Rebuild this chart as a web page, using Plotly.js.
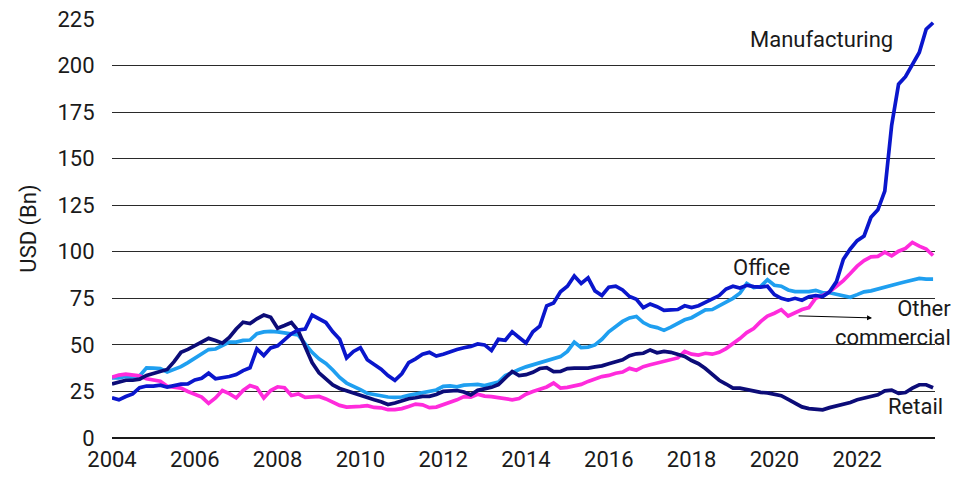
<!DOCTYPE html>
<html>
<head>
<meta charset="utf-8">
<script src="https://cdn.plot.ly/plotly-3.0.1.min.js"></script>
<style>
  html, body { margin: 0; padding: 0; background: #ffffff; }
  #chart { width: 969px; height: 478px; }
</style>
</head>
<body>
<div id="chart"></div>
<script>
// Bimonthly observations (Jan, Mar, May, Jul, Sep, Nov), Jan 2004 – Nov 2023, USD bn
const START_YEAR = 2004;
const STEP_MONTHS = 2;

const manufacturing = [
  21.6, 20.5, 22.3, 23.7, 27.0, 27.9,
  27.9, 28.4, 27.3, 28.2, 28.9, 29.1,
  31.2, 32.1, 34.8, 31.8, 32.3, 33.0,
  34.1, 36.2, 37.7, 47.9, 44.3, 48.4,
  49.5, 53.0, 56.0, 58.0, 58.5, 66.0,
  64.0, 62.0, 57.0, 53.0, 43.0, 46.5,
  48.5, 42.0, 39.5, 37.0, 33.5, 31.0,
  34.5, 40.5, 42.5, 45.0, 46.0, 44.0,
  45.0, 46.5, 47.5, 48.5, 49.2, 50.5,
  50.0, 47.0, 53.0, 52.5, 57.0, 54.0,
  51.0, 57.0, 60.0, 71.0, 72.5, 78.5,
  81.5, 87.0, 83.0, 86.0, 79.0, 76.5,
  81.0, 81.5, 79.5, 76.0, 74.5, 70.0,
  72.0, 70.5, 68.5, 68.8, 69.0, 71.0,
  70.0, 71.0, 73.0, 75.0, 76.5, 80.0,
  81.5, 80.5, 82.0, 81.3, 81.0, 81.5,
  77.0, 75.0, 74.0, 75.0, 74.0, 75.9,
  76.5, 76.0, 78.5, 84.0, 96.0, 101.5,
  106.0, 108.5, 118.5, 122.5, 132.6, 168.0,
  190.0, 194.0, 201.0, 207.0, 219.5, 223.0
];

const office = [
  32.3, 32.3, 33.0, 32.5, 33.3, 37.7,
  37.5, 37.3, 35.5, 37.0, 38.3, 40.5,
  43.0, 45.2, 47.5, 47.8, 49.5, 51.5,
  51.5, 52.4, 52.6, 56.0, 57.0, 57.3,
  57.0, 56.5, 56.0, 55.3, 50.5, 46.0,
  42.5, 40.0, 36.5, 32.5, 29.5, 28.0,
  26.0, 24.0, 23.2, 22.5, 22.0, 21.8,
  22.0, 22.9, 23.5, 24.1, 24.8, 25.8,
  27.7, 28.0, 27.5, 28.4, 28.6, 28.8,
  28.2, 29.0, 30.0, 33.5, 35.3, 36.8,
  38.2, 39.3, 39.9, 41.2, 42.2, 43.7,
  46.5, 51.5, 48.5, 48.8, 50.0, 53.0,
  57.0, 60.0, 62.6, 64.5, 65.3, 62.0,
  60.1, 59.3, 57.8, 59.5, 61.7, 63.5,
  64.6, 66.5, 68.8, 69.0, 71.0, 72.5,
  75.0, 77.7, 83.0, 80.8, 81.3, 85.0,
  82.0, 81.5, 79.5, 78.6, 78.6, 78.6,
  79.3, 78.0, 78.0, 77.3, 76.5, 75.6,
  77.0, 78.5, 79.0, 80.0, 81.5, 82.1,
  83.0, 83.9, 85.0, 85.7, 85.3, 85.3
];

const otherCommercial = [
  32.7, 33.8, 34.3, 33.6, 33.4, 31.8,
  31.0, 30.5, 27.8, 27.3, 26.8, 25.0,
  23.5, 22.0, 18.6, 21.5, 25.5, 23.8,
  21.5, 25.5, 28.2, 27.0, 21.5, 25.5,
  27.5, 27.0, 22.8, 23.7, 21.8, 22.3,
  22.3, 21.0, 19.0, 17.5, 16.6, 16.6,
  17.0, 17.4, 16.4, 16.2, 15.2, 15.2,
  15.8, 16.9, 18.2, 17.8, 16.3, 16.6,
  17.9, 18.8, 20.5, 22.2, 22.0, 23.5,
  22.5, 22.2, 21.7, 21.2, 20.5, 21.2,
  23.5, 25.0, 26.3, 27.4, 29.5, 26.8,
  27.2, 28.0, 28.8, 30.4, 31.8, 33.0,
  33.6, 34.8, 35.4, 37.4, 36.4, 38.3,
  39.3, 40.3, 41.0, 42.0, 43.0, 46.5,
  45.0, 44.5, 45.5, 45.0, 46.0, 48.0,
  50.5, 53.4, 56.6, 58.8, 62.5, 65.5,
  67.0, 68.9, 65.5, 67.3, 69.0, 70.0,
  75.1, 76.5, 78.5, 81.5, 84.5, 88.3,
  92.3, 95.3, 97.3, 97.5, 99.8, 97.8,
  100.3, 101.8, 105.0, 103.0, 101.5, 98.0
];

const retail = [
  29.0, 30.2, 31.0, 31.0, 31.6, 33.6,
  34.8, 35.8, 36.8, 41.0, 46.0, 47.6,
  49.5, 51.4, 53.5, 52.3, 50.9, 54.0,
  58.5, 62.2, 61.5, 64.0, 66.0, 64.8,
  59.0, 60.4, 62.0, 57.5, 49.0, 40.5,
  35.0, 31.5, 28.5, 26.6, 25.3, 24.0,
  22.6, 21.5, 20.5, 19.5, 18.0, 18.8,
  20.2, 21.1, 21.6, 22.3, 22.4, 23.4,
  25.0, 25.5, 25.5, 24.7, 23.2, 25.6,
  26.4, 27.2, 28.7, 32.5, 35.7, 33.5,
  34.0, 35.3, 37.3, 37.8, 35.6, 35.7,
  37.3, 37.5, 37.5, 37.5, 38.2, 38.75,
  39.9, 41.0, 42.0, 44.2, 45.2, 45.5,
  47.3, 45.8, 46.5, 46.0, 44.7, 43.8,
  41.6, 39.9, 37.3, 34.0, 31.0, 29.0,
  26.8, 26.8, 26.0, 25.4, 24.5, 24.2,
  23.6, 22.7, 20.7, 18.5, 16.7, 15.8,
  15.2, 15.1, 16.3, 17.1, 18.0, 19.1,
  20.5, 21.5, 22.4, 23.2, 25.3, 25.7,
  24.0, 24.4, 26.8, 28.6, 28.6, 27.0
];

const seriesNames = ['Office', 'Other commercial', 'Retail', 'Manufacturing'];
const yTickVals = [0, 25, 50, 75, 100, 125, 150, 175, 200, 225];
const xTickVals = [2004, 2006, 2008, 2010, 2012, 2014, 2016, 2018, 2020, 2022];

// time axis in decimal years, one step per observation
const time = manufacturing.map((_, i) => START_YEAR + i * STEP_MONTHS / 12);

const FONT = 'Roboto, "Open Sans", Arial, sans-serif';
const TEXT = '#1a1a1a';
const FS = 22;

const colors = {
  'Office': '#1f9ff0',
  'Other commercial': '#ff2bdc',
  'Retail': '#0c0c78',
  'Manufacturing': '#0a16cc'
};
const values = {
  'Office': office,
  'Other commercial': otherCommercial,
  'Retail': retail,
  'Manufacturing': manufacturing
};

const traces = seriesNames.map(name => ({
  type: 'scatter',
  mode: 'lines',
  name: name,
  x: time,
  y: values[name],
  line: { color: colors[name], width: 3.7 },
  hoverinfo: 'x+y+name'
}));

const layout = {
  width: 969,
  height: 478,
  margin: { l: 112, r: 34, t: 19, b: 40 },
  paper_bgcolor: '#ffffff',
  plot_bgcolor: '#ffffff',
  showlegend: false,
  font: { family: FONT, size: FS, color: TEXT },
  xaxis: {
    range: [2004, 2023.88],
    tickmode: 'array',
    tickvals: xTickVals,
    ticktext: xTickVals.map(String),
    showgrid: false,
    zeroline: false,
    showline: false,
    ticks: 'outside',
    ticklen: 2,
    tickcolor: 'rgba(0,0,0,0)',
    tickfont: { family: FONT, size: FS, color: TEXT }
  },
  yaxis: {
    range: [0, 225],
    tickmode: 'array',
    tickvals: yTickVals,
    ticktext: yTickVals.map(String),
    showgrid: true,
    gridcolor: '#2a2a2a',
    gridwidth: 1,
    zeroline: true,
    zerolinecolor: '#1a1a1a',
    zerolinewidth: 2,
    showline: false,
    ticks: 'outside',
    ticklen: 12,
    tickcolor: 'rgba(0,0,0,0)',
    tickfont: { family: FONT, size: FS, color: TEXT },
    title: { text: 'USD (Bn)', standoff: 14, font: { family: FONT, size: FS, color: TEXT } }
  },
  annotations: [
    { x: 2021.15, y: 214, xref: 'x', yref: 'y', text: 'Manufacturing', showarrow: false,
      font: { family: FONT, size: FS, color: TEXT } },
    { x: 2019.7, y: 91.4, xref: 'x', yref: 'y', text: 'Office', showarrow: false,
      font: { family: FONT, size: FS, color: TEXT } },
    { x: 1.0219, y: 0.2745, xref: 'paper', yref: 'paper', text: 'Other<br>commercial', showarrow: false,
      xanchor: 'right', yanchor: 'middle', align: 'right', font: { family: FONT, size: FS, color: TEXT } },
    { x: 2022.36, y: 64.5, xref: 'x', yref: 'y', ax: 2020.55, ay: 65.6, axref: 'x', ayref: 'y',
      text: '', showarrow: true, arrowhead: 2, arrowsize: 1, arrowwidth: 1, arrowcolor: '#000000' },
    { x: 2023.4, y: 16.7, xref: 'x', yref: 'y', text: 'Retail', showarrow: false,
      font: { family: FONT, size: FS, color: TEXT } }
  ]
};

Plotly.newPlot('chart', traces, layout, { displayModeBar: false, responsive: false, staticPlot: true });
</script>
</body>
</html>
